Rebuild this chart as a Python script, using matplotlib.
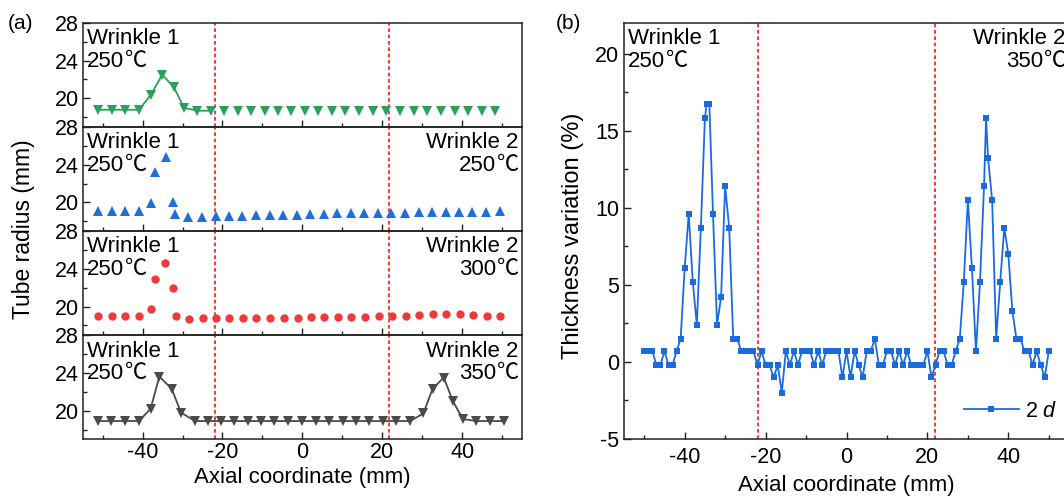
import matplotlib
matplotlib.use("Agg")
import matplotlib.pyplot as plt
from matplotlib.ticker import MultipleLocator

plt.rcParams['font.family'] = ['Liberation Sans', 'Noto Sans CJK SC', 'DejaVu Sans']
plt.rcParams['mathtext.fontset'] = 'custom'
plt.rcParams['mathtext.it'] = 'Liberation Sans:italic'
plt.rcParams['mathtext.rm'] = 'Liberation Sans'
plt.rcParams['axes.unicode_minus'] = False

# ---------------- data: panel (a) ----------------
x_a1 = [-51.1, -47.7, -44.3, -40.9, -37.9, -35.1, -32.2, -29.6, -26.3, -22.9, -19.6, -16.2,
        -12.9, -9.4, -6.1, -2.8, 0.7, 4.0, 7.5, 10.8, 14.2, 17.6, 21.0, 24.5, 27.9, 31.2,
        34.7, 38.1, 41.5, 44.9, 48.3]
y_a1 = [18.8, 18.8, 18.8, 18.8, 20.4, 22.5, 21.2, 19.0, 18.7, 18.7, 18.7, 18.7,
        18.7, 18.7, 18.7, 18.7, 18.7, 18.7, 18.7, 18.7, 18.7, 18.7, 18.7, 18.7, 18.7, 18.7,
        18.7, 18.7, 18.7, 18.7, 18.7]
n_fit_a1 = 10  # fitted line drawn over the first points only

x_a2 = [-51.1, -47.7, -44.3, -41.0, -37.9, -36.8, -34.2, -32.5, -31.8, -28.6, -25.1, -21.7,
        -18.4, -15.1, -11.6, -8.2, -4.9, -1.4, 1.9, 5.3, 8.7, 12.1, 15.5, 18.9, 22.3, 25.6,
        29.1, 32.5, 35.9, 39.2, 42.6, 46.1, 49.4]
y_a2 = [19.1, 19.1, 19.1, 19.1, 19.9, 23.2, 24.8, 20.0, 18.8, 18.5, 18.5, 18.6,
        18.6, 18.6, 18.7, 18.7, 18.7, 18.7, 18.8, 18.8, 18.9, 18.9, 18.9, 18.9, 18.9, 18.9,
        19.0, 19.0, 19.0, 19.0, 19.0, 19.0, 19.1]

x_a3 = [-51.2, -47.7, -44.3, -41.0, -37.8, -36.9, -34.3, -32.4, -31.6, -28.3, -25.0, -21.6,
        -18.3, -14.8, -11.5, -8.0, -4.7, -1.2, 2.1, 5.5, 9.0, 12.3, 15.7, 19.1, 22.5, 25.9,
        29.3, 32.7, 36.0, 39.5, 42.8, 46.2, 49.6]
y_a3 = [19.0, 19.0, 19.0, 19.0, 19.7, 22.9, 24.6, 22.0, 19.0, 18.7, 18.75, 18.75,
        18.75, 18.8, 18.8, 18.8, 18.8, 18.8, 18.85, 18.85, 18.9, 18.9, 18.9, 18.95, 19.0, 19.0,
        19.1, 19.2, 19.25, 19.2, 19.1, 19.0, 19.0]

x_a4 = [-51.2, -47.8, -44.4, -40.9, -38.0, -35.8, -32.7, -30.4, -26.9, -23.7, -20.4, -17.0,
        -13.7, -10.3, -7.0, -3.5, -0.2, 3.3, 6.6, 10.1, 13.4, 16.8, 20.2, 23.5, 27.0, 30.3,
        32.6, 35.4, 37.7, 40.2, 43.6, 47.1, 50.5]
y_a4 = [18.9, 18.9, 18.9, 18.9, 20.2, 23.6, 22.3, 19.8, 18.9, 18.9, 18.9, 18.9,
        18.9, 18.9, 18.9, 18.9, 18.9, 18.9, 18.9, 18.9, 18.9, 18.9, 18.9, 18.9, 18.9, 19.7,
        22.3, 23.5, 21.0, 19.1, 18.9, 18.9, 18.9]

temps_a = [None, "250", "300", "350"]   # wrinkle 2 temperature per sub-panel
wrinkle1_temp = "250"

# ---------------- data: panel (b) ----------------
x_b = [-50, -49, -48, -47, -46, -45, -44, -43, -42, -41, -40, -39, -38, -37, -36, -35,
       -34.6, -33.9, -33, -32, -31, -30, -29, -28, -27, -26, -25, -24, -23, -22, -21, -20,
       -19, -18, -17, -16, -15, -14, -13, -12, -11, -10, -9, -8, -7, -6, -5, -4, -3, -2,
       -1, 0, 1, 2, 3, 4, 5, 6, 7, 8, 9, 10, 11, 12, 13, 14, 15, 16, 17, 18, 19, 20,
       21, 22, 23, 24, 25, 26, 27, 28, 29, 30, 31, 32, 33, 34, 34.5, 35, 36, 37, 38, 39,
       40, 41, 42, 43, 44, 45, 46, 47, 48, 49, 50]
y_b = [0.7, 0.7, 0.7, -0.2, -0.2, 0.7, -0.2, -0.2, 0.7, 1.5, 6.1, 9.6, 5.2, 2.4, 8.7, 15.8,
       16.7, 16.7, 9.6, 2.4, 4.2, 11.4, 8.7, 1.5, 1.5, 0.7, 0.7, 0.7, 0.7, -0.2, 0.7, -0.2,
       -0.2, -1.0, -0.2, -2.0, 0.7, -0.2, 0.7, -0.2, 0.7, 0.7, 0.7, -0.2, 0.7, -0.2, 0.7, 0.7, 0.7, 0.7,
       -1.0, 0.7, -1.0, 0.7, -0.2, -1.0, 0.7, 0.7, 1.5, -0.2, -0.2, 0.7, 0.7, -0.2, 0.7, -0.2, 0.7, -0.2, -0.2, -0.2, -0.2, 0.7,
       -1.0, -0.2, 0.7, 0.7, -0.2, -0.2, 0.7, 1.5, 5.2, 10.5, 6.1, 0.7, 5.2, 11.4, 15.8, 13.2, 10.5, 1.5, 5.2, 8.7,
       7.0, 3.3, 1.5, 1.5, 0.7, 0.7, -0.2, 0.7, -0.2, -1.0, 0.7]
legend_b = "2 $d$"
temp_b = ["250", "350"]

wrinkle_bounds = [-21.8, 21.8]

# ---------------- style ----------------
W, H = 1064, 497
fig = plt.figure(figsize=(W / 100, H / 100), dpi=100)
spine_c = '#222222'
red = '#FF1010'
fs_tick = 15.5
fs_text = 16
CJK = ['Noto Sans CJK SC']
DEG = '℃'


def px(x0, y0, x1, y1):
    return [x0 / W, 1 - y1 / H, (x1 - x0) / W, (y1 - y0) / H]


def wrinkle_label(ax, name, temp, side):
    """Two-line label; the ℃ sign is drawn in a CJK font."""
    off1, off2 = -21.6, -44.0
    if side == 'left':
        ax.annotate(name, xy=(0, 1), xycoords='axes fraction', xytext=(4.3, off1),
                    textcoords='offset pixels', ha='left', va='baseline', fontsize=fs_text)
        t = ax.annotate(temp, xy=(0, 1), xycoords='axes fraction', xytext=(4.3, off2),
                        textcoords='offset pixels', ha='left', va='baseline', fontsize=fs_text)
        ax.annotate(DEG, xy=(1, 1), xycoords=(t, 'axes fraction'), xytext=(0.5, off2),
                    textcoords='offset pixels', ha='left', va='baseline', fontsize=fs_text,
                    family=CJK, annotation_clip=False)
    else:
        ax.annotate(name, xy=(1, 1), xycoords='axes fraction', xytext=(-4, off1),
                    textcoords='offset pixels', ha='right', va='baseline', fontsize=fs_text,
                    annotation_clip=False)
        tc = ax.annotate(DEG, xy=(1, 1), xycoords='axes fraction', xytext=(-3, off2),
                         textcoords='offset pixels', ha='right', va='baseline',
                         fontsize=fs_text, family=CJK, annotation_clip=False)
        ax.annotate(temp, xy=(0, 1), xycoords=(tc, 'axes fraction'), xytext=(-0.5, off2),
                    textcoords='offset pixels', ha='right', va='baseline', fontsize=fs_text,
                    annotation_clip=False)


def style_axes(ax):
    ax.tick_params(which='both', direction='in', top=False, right=False, colors=spine_c,
                   labelsize=fs_tick, labelcolor='black')
    ax.tick_params(which='major', length=5, width=1.0)
    ax.tick_params(which='minor', length=3, width=1.0)
    for s in ax.spines.values():
        s.set_color(spine_c)
        s.set_linewidth(1.1)


series = [
    (x_a1, y_a1, dict(marker='v', color='#2AA05A', ms=6.6), n_fit_a1),
    (x_a2, y_a2, dict(marker='^', color='#1E6FD9', ms=6.6), 0),
    (x_a3, y_a3, dict(marker='o', color='#F03A3A', ms=6.0), 0),
    (x_a4, y_a4, dict(marker='v', color='#4A4A4A', ms=6.6), None),
]

top, bot = 22.7, 439.0
ph = (bot - top) / 4
for i, (xs, ys, st, nfit) in enumerate(series):
    y0 = top + i * ph
    ax = fig.add_axes(px(82.7, y0, 522.0, y0 + ph))
    c = st['color']
    if nfit is None:
        ax.plot(xs, ys, '-', color=c, lw=1.3, zorder=2)
    elif nfit > 0:
        ax.plot(xs[:nfit], ys[:nfit], '-', color=c, lw=1.3, zorder=2)
    ax.plot(xs, ys, linestyle='none', marker=st['marker'], color=c, ms=st['ms'],
            markeredgewidth=0, zorder=3)
    for xb in wrinkle_bounds:
        ax.axvline(xb, color=red, lw=1.2, ls=(0, (2.2, 1.6)), zorder=1)
    ax.set_xlim(-55, 55)
    ax.set_ylim(17, 28)
    ax.yaxis.set_major_locator(MultipleLocator(4))
    ax.yaxis.set_minor_locator(MultipleLocator(2))
    ax.xaxis.set_major_locator(MultipleLocator(20))
    ax.xaxis.set_minor_locator(MultipleLocator(10))
    style_axes(ax)
    ax.tick_params(axis='y', pad=3)
    ax.tick_params(axis='x', pad=2)
    if i < 3:
        ax.tick_params(axis='x', labelbottom=False)
    wrinkle_label(ax, "Wrinkle 1", wrinkle1_temp, 'left')
    if temps_a[i]:
        wrinkle_label(ax, "Wrinkle 2", temps_a[i], 'right')
    ax.patch.set_alpha(0)

# ---------------- panel (b) ----------------
axb = fig.add_axes(px(624.0, top, 1069.0, bot))
blue = '#1A6BE0'
axb.plot(x_b, y_b, '-', color=blue, lw=1.3, marker='s', ms=3.8,
         markeredgewidth=0, label=legend_b)
for xb in wrinkle_bounds:
    axb.axvline(xb, color=red, lw=1.2, ls=(0, (2.2, 1.6)), zorder=1)
axb.set_xlim(-55, 55)
axb.set_ylim(-5, 22)
axb.yaxis.set_major_locator(MultipleLocator(5))
axb.yaxis.set_minor_locator(MultipleLocator(2.5))
axb.xaxis.set_major_locator(MultipleLocator(20))
axb.xaxis.set_minor_locator(MultipleLocator(10))
style_axes(axb)
axb.tick_params(axis='y', pad=3.5)
axb.tick_params(axis='x', pad=5.5)
wrinkle_label(axb, "Wrinkle 1", temp_b[0], 'left')
wrinkle_label(axb, "Wrinkle 2", temp_b[1], 'right')
axb.legend(loc='center left', bbox_to_anchor=(0.764, 0.067), frameon=False,
           fontsize=fs_tick, handlelength=2.55, handletextpad=0.3, borderpad=0,
           borderaxespad=0)

# ---------------- labels ----------------
fig.text(0.007, 0.972, '(a)', fontsize=15, ha='left', va='top')
fig.text(0.5225, 0.972, '(b)', fontsize=15, ha='left', va='top')
fig.text(24 / W, 1 - 229 / H, 'Tube radius (mm)', rotation=90, ha='center', va='center',
         fontsize=16.5)
fig.text(572.5 / W, 1 - 235.8 / H, 'Thickness variation (%)', rotation=90, ha='center',
         va='center', fontsize=17)
fig.text(302.3 / W, 1 - 482.7 / H, 'Axial coordinate (mm)', ha='center', va='baseline',
         fontsize=16)
fig.text(846.5 / W, 1 - 491.5 / H, 'Axial coordinate (mm)', ha='center', va='baseline',
         fontsize=16)

fig.savefig('out.png', dpi=100)
